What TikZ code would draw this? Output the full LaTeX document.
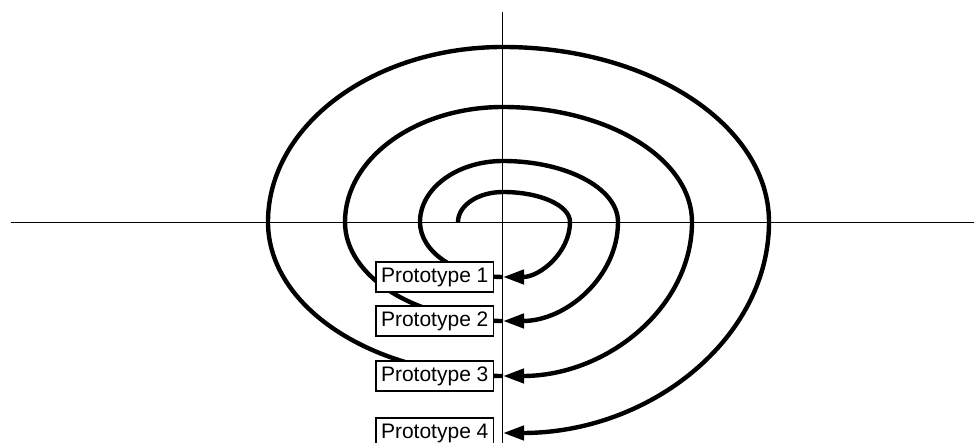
\documentclass[tikz,border=0pt]{standalone}
\usepackage{fontspec}
\setmainfont{Liberation Sans}
\usetikzlibrary{arrows.meta}
\begin{document}
\begin{tikzpicture}[x=1pt,y=1pt,
  axisline/.style={line width=1.8pt,black},
  spiralline/.style={line width=4.4pt,black},
  arrowed/.style={spiralline,-{Triangle[length=21pt,width=14pt]}},
  protobox/.style={draw,line width=1.5pt,fill=white,anchor=east,
    minimum width=117pt,minimum height=30pt,inner sep=0pt,
    font=\fontsize{21}{25}\selectfont}]
\useasboundingbox (-503,-221) rectangle (473,222);
% axes
\coordinate (hl) at (-492,-0.5);
\coordinate (hr) at (471,-0.5);
\coordinate (vt) at (-0.5,210);
\coordinate (vb) at (-0.5,-225);
\draw[axisline] (hl) -- (hr);
\draw[axisline] (vt) -- (vb);
% arrow end points on the vertical axis
\coordinate (s0) at (-45,0);
\coordinate (t1) at (0,-55);
\coordinate (t2) at (0,-99);
\coordinate (t3) at (0,-154);
\coordinate (t4) at (0,-211);
% spiral turns
\draw[arrowed] (s0)
  arc[start angle=180,end angle=90,x radius=45,y radius=30]
  arc[start angle=90,end angle=0,x radius=67,y radius=30]
  arc[start angle=0,end angle=-90,x radius=67,y radius=55];
\draw[arrowed] (t1)
  arc[start angle=270,end angle=180,x radius=83,y radius=55]
  arc[start angle=180,end angle=90,x radius=83,y radius=61]
  arc[start angle=90,end angle=0,x radius=115,y radius=61]
  arc[start angle=0,end angle=-90,x radius=115,y radius=99];
\draw[arrowed] (t2)
  arc[start angle=270,end angle=180,x radius=158,y radius=99]
  arc[start angle=180,end angle=90,x radius=158,y radius=115]
  arc[start angle=90,end angle=0,x radius=189,y radius=115]
  arc[start angle=0,end angle=-90,x radius=189,y radius=154];
\draw[arrowed] (t3)
  arc[start angle=270,end angle=180,x radius=235,y radius=154]
  arc[start angle=180,end angle=90,x radius=235,y radius=175]
  arc[start angle=90,end angle=0,x radius=266,y radius=175]
  arc[start angle=0,end angle=-90,x radius=266,y radius=211];
% labels
\node[protobox] (p1) at ([xshift=-9pt]t1) {Prototype 1};
\node[protobox] (p2) at ([xshift=-9pt]t2) {Prototype 2};
\node[protobox] (p3) at ([xshift=-9pt]t3) {Prototype 3};
\node[protobox] (p4) at ([xshift=-9pt]t4) {Prototype 4};
\end{tikzpicture}
\end{document}
